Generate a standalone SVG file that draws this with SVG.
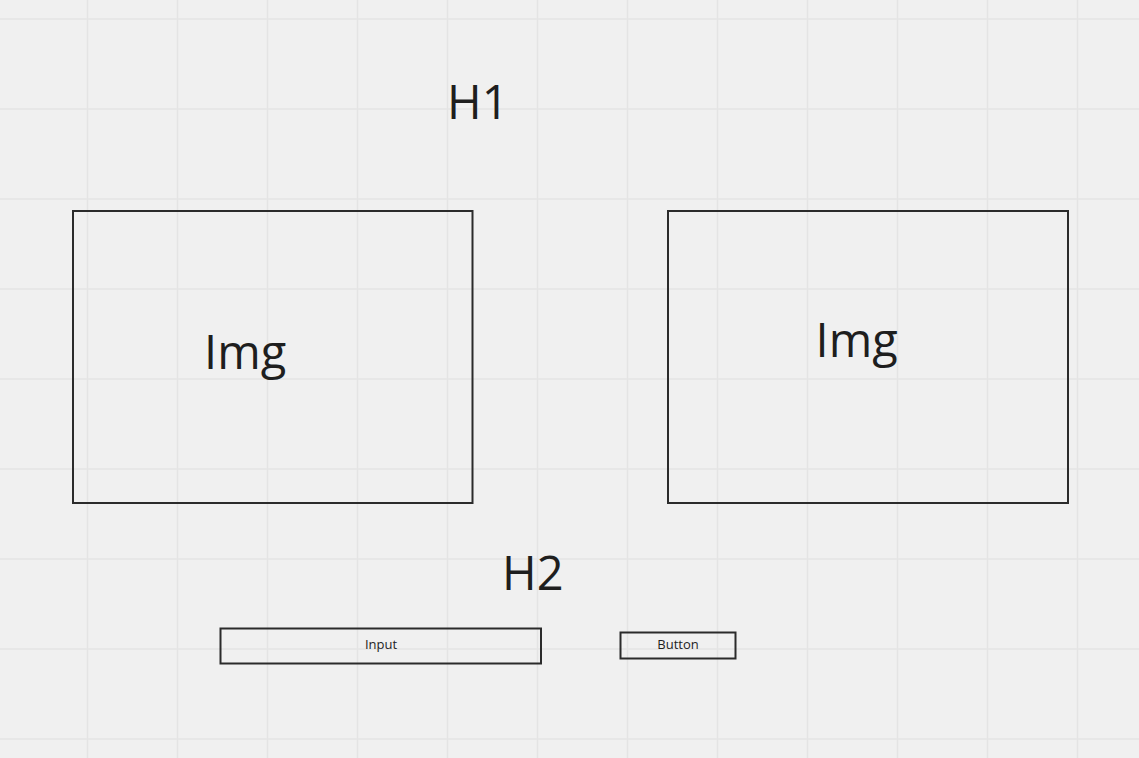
<svg xmlns="http://www.w3.org/2000/svg" width="1139" height="758" viewBox="0 0 1139 758">
<style>
.grid line{stroke:#e4e4e4;stroke-width:1.5}
.box{fill:none;stroke:#2b2b2b;stroke-width:2}
.big{font-family:"Open Sans","Noto Sans",sans-serif;font-size:47px;fill:#1e1e1e}
.small{font-family:"Open Sans","Noto Sans",sans-serif;font-size:13px;fill:#1e1e1e;text-anchor:middle}
</style>
<rect width="1139" height="758" fill="#f0f0f0"/>
<g class="grid">
<line x1="87.5" y1="0" x2="87.5" y2="758"/>
<line x1="177.5" y1="0" x2="177.5" y2="758"/>
<line x1="267.5" y1="0" x2="267.5" y2="758"/>
<line x1="357.5" y1="0" x2="357.5" y2="758"/>
<line x1="447.5" y1="0" x2="447.5" y2="758"/>
<line x1="537.5" y1="0" x2="537.5" y2="758"/>
<line x1="627.5" y1="0" x2="627.5" y2="758"/>
<line x1="717.5" y1="0" x2="717.5" y2="758"/>
<line x1="807.5" y1="0" x2="807.5" y2="758"/>
<line x1="897.5" y1="0" x2="897.5" y2="758"/>
<line x1="987.5" y1="0" x2="987.5" y2="758"/>
<line x1="1077.5" y1="0" x2="1077.5" y2="758"/>
<line x1="0" y1="19" x2="1139" y2="19"/>
<line x1="0" y1="109" x2="1139" y2="109"/>
<line x1="0" y1="199" x2="1139" y2="199"/>
<line x1="0" y1="289" x2="1139" y2="289"/>
<line x1="0" y1="379" x2="1139" y2="379"/>
<line x1="0" y1="469" x2="1139" y2="469"/>
<line x1="0" y1="559" x2="1139" y2="559"/>
<line x1="0" y1="649" x2="1139" y2="649"/>
<line x1="0" y1="739" x2="1139" y2="739"/>
</g>
<g id="h1"><text class="big" x="447" y="118.5">H1</text></g>
<g id="img1"><rect class="box" x="73" y="211" width="399.5" height="292"/><text class="big" x="204" y="368.5">Img</text></g>
<g id="img2"><rect class="box" x="668" y="211" width="400" height="292"/><text class="big" x="815.5" y="357">Img</text></g>
<g id="h2"><text class="big" x="502" y="589.5">H2</text></g>
<g id="input"><rect class="box" x="220.5" y="628.5" width="320.5" height="35"/><text class="small" x="381" y="649">Input</text></g>
<g id="button"><rect class="box" x="620.5" y="632.5" width="115" height="26"/><text class="small" x="678" y="649">Button</text></g>
<g id="connectors"></g>
</svg>
